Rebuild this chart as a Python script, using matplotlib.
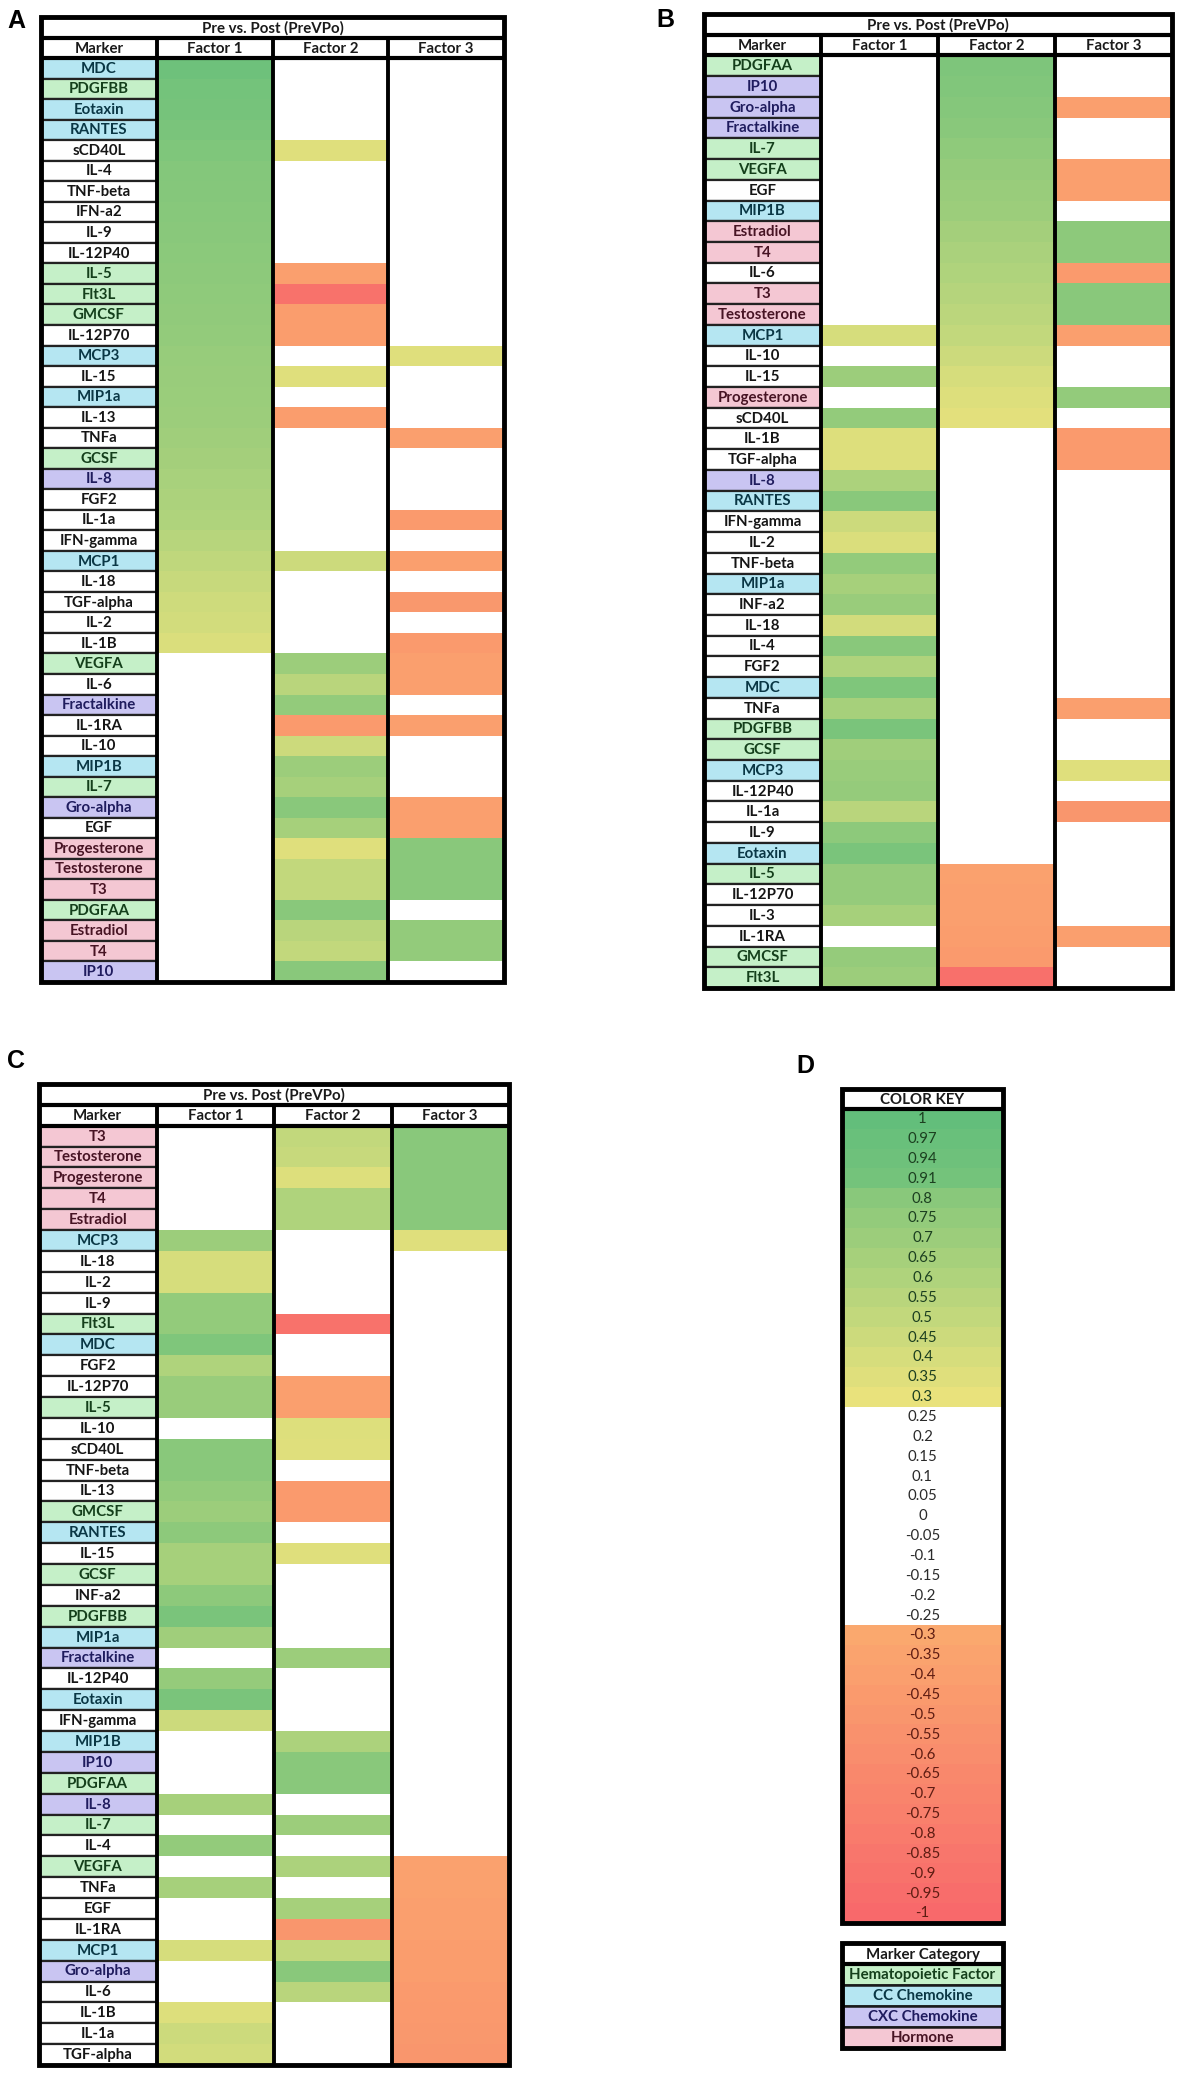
import matplotlib
matplotlib.use('Agg')
import matplotlib.pyplot as plt
from matplotlib.colors import LinearSegmentedColormap, Normalize
from matplotlib.patches import Rectangle

plt.rcParams['font.family'] = ['Lato', 'DejaVu Sans']

W, H = 1197, 2083

# marker categories
hemato = ['PDGFBB', 'IL-5', 'Flt3L', 'GMCSF', 'GCSF', 'VEGFA', 'IL-7', 'PDGFAA']
cc_chemo = ['MDC', 'Eotaxin', 'RANTES', 'MCP3', 'MIP1a', 'MCP1', 'MIP1B']
cxc_chemo = ['IL-8', 'Fractalkine', 'Gro-alpha', 'IP10']
hormones = ['Progesterone', 'Testosterone', 'T3', 'Estradiol', 'T4']

# panel A
markers_a = ['MDC', 'PDGFBB', 'Eotaxin', 'RANTES', 'sCD40L', 'IL-4', 'TNF-beta', 'IFN-a2', 'IL-9',
             'IL-12P40', 'IL-5', 'Flt3L', 'GMCSF', 'IL-12P70', 'MCP3', 'IL-15', 'MIP1a', 'IL-13',
             'TNFa', 'GCSF', 'IL-8', 'FGF2', 'IL-1a', 'IFN-gamma', 'MCP1', 'IL-18', 'TGF-alpha',
             'IL-2', 'IL-1B', 'VEGFA', 'IL-6', 'Fractalkine', 'IL-1RA', 'IL-10', 'MIP1B', 'IL-7',
             'Gro-alpha', 'EGF', 'Progesterone', 'Testosterone', 'T3', 'PDGFAA', 'Estradiol', 'T4', 'IP10']
f1_a = [0.94, 0.91, 0.9, 0.88, 0.85, 0.83, 0.82, 0.81, 0.8, 0.79, 0.78, 0.77, 0.76, 0.75, 0.73,
        0.72, 0.71, 0.7, 0.68, 0.66, 0.64, 0.62, 0.6, 0.56, 0.52, 0.48, 0.44, 0.42, 0.38,
        0, 0, 0, 0, 0, 0, 0, 0, 0, 0, 0, 0, 0, 0, 0, 0]
f2_a = [0, 0, 0, 0, 0.35, 0, 0, 0, 0, 0, -0.4, -0.9, -0.42, -0.42, 0, 0.35, 0, -0.42, 0, 0,
        0, 0, 0, 0, 0.45, 0, 0, 0, 0, 0.7, 0.55, 0.75, -0.45, 0.45, 0.7, 0.65, 0.8, 0.65, 0.35, 0.5,
        0.5, 0.8, 0.55, 0.5, 0.8]
f3_a = [0, 0, 0, 0, 0, 0, 0, 0, 0, 0, 0, 0, 0, 0, 0.35, 0, 0, 0, -0.4, 0,
        0, 0, -0.45, 0, -0.4, 0, -0.48, 0, -0.45, -0.4, -0.4, 0, -0.4, 0, 0, 0, -0.4, -0.4, 0.8, 0.8,
        0.8, 0, 0.75, 0.75, 0]

# panel B
markers_b = ['PDGFAA', 'IP10', 'Gro-alpha', 'Fractalkine', 'IL-7', 'VEGFA', 'EGF', 'MIP1B', 'Estradiol',
             'T4', 'IL-6', 'T3', 'Testosterone', 'MCP1', 'IL-10', 'IL-15', 'Progesterone', 'sCD40L',
             'IL-1B', 'TGF-alpha', 'IL-8', 'RANTES', 'IFN-gamma', 'IL-2', 'TNF-beta', 'MIP1a', 'INF-a2',
             'IL-18', 'IL-4', 'FGF2', 'MDC', 'TNFa', 'PDGFBB', 'GCSF', 'MCP3', 'IL-12P40', 'IL-1a',
             'IL-9', 'Eotaxin', 'IL-5', 'IL-12P70', 'IL-3', 'IL-1RA', 'GMCSF', 'Flt3L']
f1_b = [0, 0, 0, 0, 0, 0, 0, 0, 0, 0, 0, 0, 0,
        0.4, 0, 0.7, 0, 0.75, 0.36, 0.36, 0.62, 0.8, 0.45, 0.38, 0.75, 0.65, 0.72, 0.42, 0.8, 0.6,
        0.85, 0.65, 0.88, 0.68, 0.72, 0.74, 0.55, 0.78, 0.88, 0.74, 0.74, 0.65, 0, 0.74, 0.7]
f2_b = [0.86, 0.84, 0.82, 0.8, 0.77, 0.74, 0.72, 0.7, 0.66, 0.63, 0.6, 0.57, 0.54, 0.5, 0.45, 0.4,
        0.36, 0.33, 0, 0, 0, 0, 0, 0, 0, 0, 0, 0, 0, 0, 0, 0, 0, 0, 0, 0, 0, 0, 0,
        -0.38, -0.4, -0.4, -0.42, -0.45, -0.92]
f3_b = [0, 0, -0.4, 0, 0, -0.4, -0.4, 0, 0.78, 0.78, -0.45, 0.8, 0.8, -0.4, 0, 0, 0.75, 0, -0.45, -0.45,
        0, 0, 0, 0, 0, 0, 0, 0, 0, 0, 0, -0.4, 0, 0, 0.35, 0, -0.5, 0, 0, 0,
        0, 0, -0.4, 0, 0]

# panel C
markers_c = ['T3', 'Testosterone', 'Progesterone', 'T4', 'Estradiol', 'MCP3', 'IL-18', 'IL-2', 'IL-9',
             'Flt3L', 'MDC', 'FGF2', 'IL-12P70', 'IL-5', 'IL-10', 'sCD40L', 'TNF-beta', 'IL-13', 'GMCSF',
             'RANTES', 'IL-15', 'GCSF', 'INF-a2', 'PDGFBB', 'MIP1a', 'Fractalkine', 'IL-12P40', 'Eotaxin',
             'IFN-gamma', 'MIP1B', 'IP10', 'PDGFAA', 'IL-8', 'IL-7', 'IL-4', 'VEGFA', 'TNFa', 'EGF',
             'IL-1RA', 'MCP1', 'Gro-alpha', 'IL-6', 'IL-1B', 'IL-1a', 'TGF-alpha']
f1_c = [0, 0, 0, 0, 0, 0.7, 0.4, 0.4, 0.75, 0.75, 0.85, 0.6, 0.72, 0.72, 0, 0.8, 0.8, 0.75, 0.7, 0.78,
        0.65, 0.65, 0.78, 0.88, 0.68, 0, 0.74, 0.88, 0.45, 0, 0, 0, 0.65, 0, 0.75, 0, 0.65, 0, 0, 0.4,
        0, 0, 0.36, 0.45, 0.42]
f2_c = [0.5, 0.48, 0.36, 0.6, 0.6, 0, 0, 0, 0, -0.9, 0, 0, -0.4, -0.4, 0.36, 0.35, 0, -0.45, -0.45, 0,
        0.35, 0, 0, 0, 0, 0.7, 0, 0, 0, 0.62, 0.8, 0.8, 0, 0.7, 0, 0.62, 0, 0.65, -0.5, 0.5,
        0.8, 0.55, 0, 0, 0]
f3_c = [0.8, 0.8, 0.8, 0.8, 0.8, 0.35, 0, 0, 0, 0, 0, 0, 0, 0, 0, 0, 0, 0, 0, 0,
        0, 0, 0, 0, 0, 0, 0, 0, 0, 0, 0, 0, 0, 0, 0,
        -0.38, -0.38, -0.4, -0.4, -0.42, -0.42, -0.45, -0.47, -0.48, -0.5]

# color key
key_labels = ['1', '0.97', '0.94', '0.91', '0.8', '0.75', '0.7', '0.65', '0.6', '0.55', '0.5', '0.45',
              '0.4', '0.35', '0.3', '0.25', '0.2', '0.15', '0.1', '0.05', '0', '-0.05', '-0.1', '-0.15',
              '-0.2', '-0.25', '-0.3', '-0.35', '-0.4', '-0.45', '-0.5', '-0.55', '-0.6', '-0.65', '-0.7',
              '-0.75', '-0.8', '-0.85', '-0.9', '-0.95', '-1']
key_values = [float(s) for s in key_labels]

categories = ['Hematopoietic Factor', 'CC Chemokine', 'CXC Chemokine', 'Hormone']
cat_bg = ['#c5f0c8', '#b5e6f2', '#c9c5f2', '#f4c7d3']
cat_fg = ['#143f1b', '#0a3745', '#1f1c5e', '#471424']

# green-yellow | white | orange-red, blank between -0.3 and 0.3
cmap = LinearSegmentedColormap.from_list('loadings', [
    (0.0, '#f8696b'), (0.35, '#faa86e'), (0.355, '#ffffff'),
    (0.645, '#ffffff'), (0.65, '#e9e27c'), (1.0, '#63be7b')], N=1024)
norm = Normalize(-1, 1)

FS = 10.8


def cat_style(m):
    for k, group in enumerate([hemato, cc_chemo, cxc_chemo, hormones]):
        if m in group:
            return cat_bg[k], cat_fg[k]
    return '#ffffff', '#151515'


def px_axes(fig, left, top, right, bottom):
    return fig.add_axes([left / W, 1 - bottom / H, (right - left) / W, (bottom - top) / H])


def draw_table(ax, markers, factors):
    n = len(markers)
    ax.set_xlim(0, 4)
    ax.set_ylim(n + 2, 0)
    ax.axis('off')
    for j, vals in enumerate(factors):
        for i, v in enumerate(vals):
            ax.add_patch(Rectangle((1 + j, 2 + i), 1, 1, facecolor=cmap(norm(v)), edgecolor='none'))
    for i, m in enumerate(markers):
        bg, fg = cat_style(m)
        ax.add_patch(Rectangle((0, 2 + i), 1, 1, facecolor=bg, edgecolor='#222222', lw=1.6))
        ax.text(0.5, 2.52 + i, m, ha='center', va='center', fontsize=FS, fontweight='bold', color=fg)
    ax.text(2, 0.55, 'Pre vs. Post (PreVPo)', ha='center', va='center', fontsize=FS,
            fontweight='bold', color='#1a1a1a')
    for k, h in enumerate(['Marker', 'Factor 1', 'Factor 2', 'Factor 3']):
        ax.text(k + 0.5, 1.55, h, ha='center', va='center', fontsize=FS, fontweight='bold', color='#1a1a1a')
    ax.plot([0, 4], [1, 1], color='k', lw=3, solid_capstyle='butt')
    ax.plot([0, 4], [2, 2], color='k', lw=3, solid_capstyle='butt')
    for x in [1, 2, 3]:
        ax.plot([x, x], [1, n + 2], color='k', lw=2.8, solid_capstyle='butt')
    ax.add_patch(Rectangle((0, 0), 4, n + 2, fill=False, edgecolor='k', lw=3.5, clip_on=False))


fig = plt.figure(figsize=(W / 100, H / 100), dpi=100)
fig.patch.set_facecolor('white')

draw_table(px_axes(fig, 41, 17, 504, 982), markers_a, [f1_a, f2_a, f3_a])
draw_table(px_axes(fig, 704, 14, 1172, 988), markers_b, [f1_b, f2_b, f3_b])
draw_table(px_axes(fig, 39, 1084, 509, 2065), markers_c, [f1_c, f2_c, f3_c])

# color key
ax = px_axes(fig, 842, 1089, 1003, 1923)
nk = len(key_values)
ax.set_xlim(0, 1)
ax.set_ylim(nk + 1, 0)
ax.axis('off')
for i, (lab, v) in enumerate(zip(key_labels, key_values)):
    ax.add_patch(Rectangle((0, 1 + i), 1, 1, facecolor=cmap(norm(v)), edgecolor='none'))
    col = '#1c3f20' if v >= 0.3 else ('#5e1c12' if v <= -0.3 else '#2a2a2a')
    ax.text(0.5, 1.52 + i, lab, ha='center', va='center', fontsize=FS, color=col)
ax.text(0.5, 0.55, 'COLOR KEY', ha='center', va='center', fontsize=FS, fontweight='bold', color='#1a1a1a')
ax.plot([0, 1], [1, 1], color='k', lw=3, solid_capstyle='butt')
ax.add_patch(Rectangle((0, 0), 1, nk + 1, fill=False, edgecolor='k', lw=3.5, clip_on=False))

# marker category legend
ax = px_axes(fig, 842, 1943, 1003, 2048)
ax.set_xlim(0, 1)
ax.set_ylim(len(categories) + 1, 0)
ax.axis('off')
ax.text(0.5, 0.55, 'Marker Category', ha='center', va='center', fontsize=FS, fontweight='bold', color='#1a1a1a')
for i, c in enumerate(categories):
    ax.add_patch(Rectangle((0, 1 + i), 1, 1, facecolor=cat_bg[i], edgecolor='#1a1a1a', lw=1.8))
    ax.text(0.5, 1.52 + i, c, ha='center', va='center', fontsize=FS, fontweight='bold', color=cat_fg[i])
ax.plot([0, 1], [1, 1], color='k', lw=3, solid_capstyle='butt')
ax.add_patch(Rectangle((0, 0), 1, len(categories) + 1, fill=False, edgecolor='k', lw=3.5, clip_on=False))

# panel letters
for lab, x, y in [('A', 7, 9), ('B', 656, 8), ('C', 7, 1049), ('D', 796, 1054)]:
    fig.text(x / W, 1 - y / H, lab, fontsize=18, fontweight='bold', va='top', ha='left',
             family=['Liberation Sans', 'DejaVu Sans'])

fig.savefig('out.png', dpi=100, facecolor='white')
